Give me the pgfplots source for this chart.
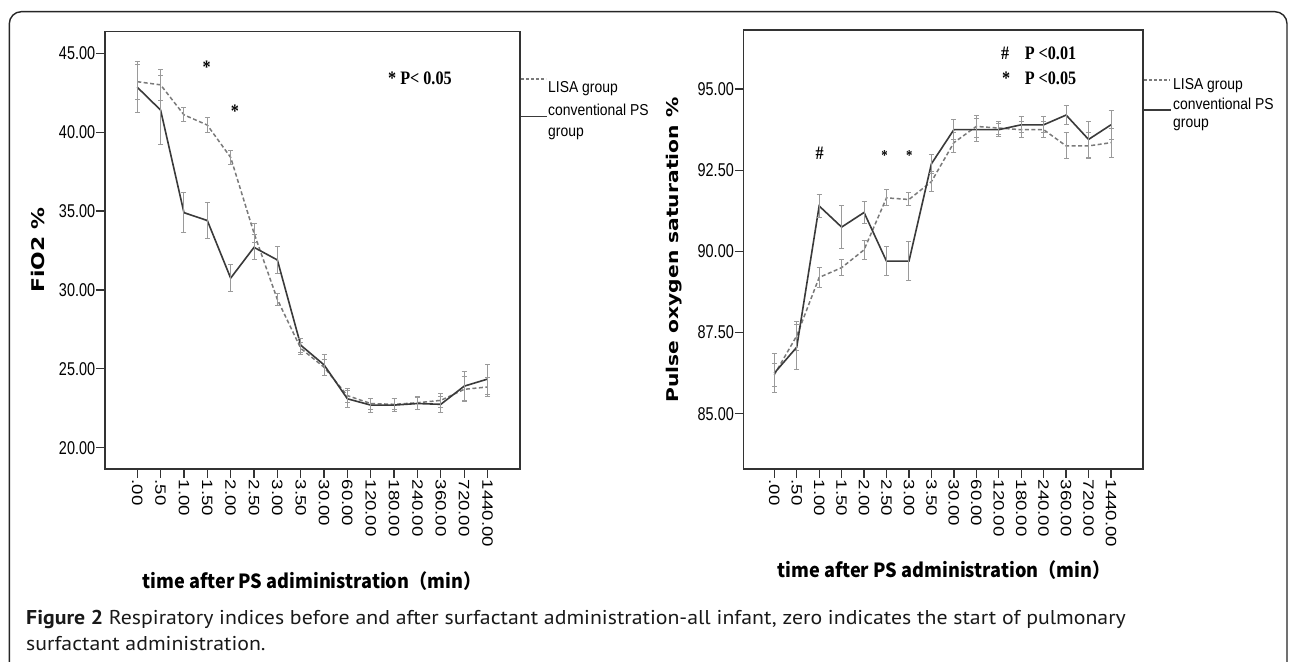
\documentclass[border=0pt]{standalone}
\usepackage{pgfplots}
\usepackage{pgfplotstable}
\pgfplotsset{compat=1.18}
\usepackage{fontspec}
\setmainfont{Liberation Sans}
\newfontfamily\ytickfont[FakeStretch=0.78]{Liberation Sans}
\newfontfamily\xtickfont[FakeStretch=1.24]{Liberation Sans}
\newfontfamily\legfont[FakeStretch=0.88]{Liberation Sans}
\newfontfamily\ylabfont[FakeStretch=1.25]{DejaVu Sans}
\newfontfamily\xlabfont[FakeStretch=0.93]{Noto Sans CJK SC}
\newfontfamily\annfont[FakeStretch=0.85]{Liberation Serif}
\newfontfamily\capfont[FakeStretch=1.09]{PT Sans}
\definecolor{lisacol}{HTML}{7A7A7A}
\definecolor{convcol}{HTML}{3A3A3A}
\definecolor{ebar}{HTML}{9A9A9A}
\definecolor{axcol}{HTML}{333333}

% x = category index (0..15), y = mean, e = error
\pgfplotstableread{
x y e
0 43.20 1.10
1 43.00 1.00
2 41.10 0.45
3 40.45 0.45
4 38.40 0.45
5 33.60 0.60
6 29.40 0.40
7 26.30 0.40
8 25.10 0.50
9 23.30 0.45
10 22.80 0.35
11 22.75 0.35
12 22.85 0.40
13 23.00 0.45
14 23.70 0.80
15 23.85 0.60
}\leftlisa
\pgfplotstableread{
x y e
0 42.85 1.60
1 41.40 2.20
2 34.90 1.25
3 34.40 1.15
4 30.75 0.85
5 32.70 0.80
6 31.90 0.85
7 26.50 0.45
8 25.25 0.65
9 23.10 0.55
10 22.70 0.45
11 22.70 0.40
12 22.80 0.40
13 22.75 0.50
14 23.90 0.90
15 24.35 0.95
}\leftconv
\pgfplotstableread{
x y e
0 86.20 0.35
1 87.40 0.45
2 89.20 0.30
3 89.50 0.25
4 90.05 0.30
5 91.65 0.25
6 91.60 0.20
7 92.15 0.30
8 93.35 0.30
9 93.85 0.35
10 93.80 0.20
11 93.75 0.25
12 93.75 0.25
13 93.25 0.40
14 93.25 0.40
15 93.35 0.45
}\rightlisa
\pgfplotstableread{
x y e
0 86.25 0.60
1 87.05 0.70
2 91.40 0.35
3 90.75 0.65
4 91.20 0.35
5 89.70 0.45
6 89.70 0.60
7 92.70 0.30
8 93.75 0.30
9 93.75 0.35
10 93.75 0.20
11 93.90 0.25
12 93.90 0.25
13 94.20 0.30
14 93.45 0.55
15 93.90 0.45
}\rightconv

\pgfplotsset{
  spss/.style={
    anchor=south west, scale only axis,
    axis line style={draw=axcol, line width=1.5pt},
    tick align=outside, xtick pos=lower, ytick pos=left,
    major tick length=9pt,
    tick style={draw=axcol, line width=1.3pt},
    xtick={0,...,15},
    xticklabels={.00,.50,1.00,1.50,2.00,2.50,3.00,3.50,30.00,60.00,120.00,180.00,240.00,360.00,720.00,1440.00},
    xticklabel style={rotate=-90, anchor=west, inner sep=1.5pt, font=\xtickfont\fontsize{15}{15}\selectfont},
    yticklabel style={inner sep=0.5pt, font=\ytickfont\fontsize{18.5}{18.5}\selectfont},
    clip=false,
  },
  lisa/.style={draw=lisacol, line width=1.5pt, dash pattern=on 4pt off 2.5pt, mark=none,
    error bars/.cd, y dir=both, y explicit,
    error bar style={draw=ebar, line width=1pt, solid},
    error mark options={draw=ebar, rotate=90, mark size=2.5pt, line width=1pt, solid}},
  conv/.style={draw=convcol, line width=1.6pt, mark=none,
    error bars/.cd, y dir=both, y explicit,
    error bar style={draw=ebar, line width=1pt},
    error mark options={draw=ebar, rotate=90, mark size=2.5pt, line width=1pt}},
}

\begin{document}
\begin{tikzpicture}[x=1pt,y=1pt]
\useasboundingbox (0,0) rectangle (1292,661);
\fill[white] (0,0) rectangle (1292,661);
\draw[line width=1.4pt, black!85, rounded corners=12pt] (9.3,-5) -- (9.3,649.3) -- (1287,649.3) -- (1287,-5);

% ---------- left chart ----------
\begin{axis}[spss, at={(104.8pt,192pt)}, width=415.4pt, height=437.3pt,
  xmin=-1.39, xmax=16.40, ymin=18.65, ymax=46.37,
  ytick={20,25,30,35,40,45}, yticklabels={20.00,25.00,30.00,35.00,40.00,45.00}]
\addplot[lisa] table[x=x, y=y, y error=e]{\leftlisa};
\addplot[conv] table[x=x, y=y, y error=e]{\leftconv};
\end{axis}

% ---------- right chart ----------
\begin{axis}[spss, at={(743.5pt,192pt)}, width=399.6pt, height=439pt,
  xmin=-1.37, xmax=16.43, ymin=83.3, ymax=96.82,
  ytick={85,87.5,90,92.5,95}, yticklabels={85.00,87.50,90.00,92.50,95.00}]
\addplot[lisa] table[x=x, y=y, y error=e]{\rightlisa};
\addplot[conv] table[x=x, y=y, y error=e]{\rightconv};
\end{axis}

% axis titles
\node[rotate=90, font=\ylabfont\bfseries\fontsize{17.5}{17.5}\selectfont] at (38,411) {FiO2 \%};
\node[rotate=90, font=\ylabfont\bfseries\fontsize{16.2}{16.2}\selectfont] at (674,411) {Pulse oxygen saturation \%};
\node[anchor=base, inner sep=0pt, font=\xlabfont\bfseries\fontsize{19.5}{19.5}\selectfont] at (312,72.5) {time after PS adiministration（min）};
\node[anchor=base, inner sep=0pt, font=\xlabfont\bfseries\fontsize{19.5}{19.5}\selectfont] at (944,83) {time after PS administration（min）};

% legends
\begin{scope}[font=\legfont\fontsize{15.8}{15.8}\selectfont]
\draw[lisacol, line width=1.4pt, dash pattern=on 3pt off 2pt] (521,582) -- (546,582);
\draw[convcol, line width=1.5pt] (521,544.3) -- (547,544.3);
\node[anchor=base west, inner sep=0pt] at (548,568) {LISA group};
\node[anchor=base west, inner sep=0pt] at (548,545.3) {conventional PS};
\node[anchor=base west, inner sep=0pt] at (548,524.3) {group};
\draw[lisacol, line width=1.4pt, dash pattern=on 3pt off 2pt] (1144,581) -- (1170,581);
\draw[convcol, line width=1.5pt] (1144,551) -- (1171,551);
\node[anchor=base west, inner sep=0pt] at (1173,571.5) {LISA group};
\node[anchor=base west, inner sep=0pt] at (1173,551) {conventional PS};
\node[anchor=base west, inner sep=0pt] at (1173,533) {group};
\end{scope}

% significance annotations
\begin{scope}[font=\annfont\bfseries\fontsize{19}{19}\selectfont, inner sep=0pt]
\node[anchor=base west] at (388,576) {* P< 0.05};
\node[anchor=center] at (206.7,594) {*};
\node[anchor=center] at (235,550) {*};
\node[anchor=base west] at (1001,601) {\#};
\node[anchor=base west] at (1024.6,601) {P <0.01};
\node[anchor=base west] at (1002,576) {*};
\node[anchor=base west] at (1024.6,576) {P <0.05};
\node[anchor=center] at (819.6,508) {\#};
\node[anchor=center, font=\annfont\bfseries\fontsize{15}{15}\selectfont] at (884.5,505) {*};
\node[anchor=center, font=\annfont\bfseries\fontsize{15}{15}\selectfont] at (909.4,505) {*};
\end{scope}

% caption
\node[anchor=base west, inner sep=0pt, font=\capfont\fontsize{20}{20}\selectfont, text=black!90] at (26,37)
  {\textbf{Figure 2} Respiratory indices before and after surfactant administration-all infant, zero indicates the start of pulmonary};
\node[anchor=base west, inner sep=0pt, font=\capfont\fontsize{20}{20}\selectfont, text=black!90] at (26,11)
  {surfactant administration.};
\end{tikzpicture}
\end{document}
